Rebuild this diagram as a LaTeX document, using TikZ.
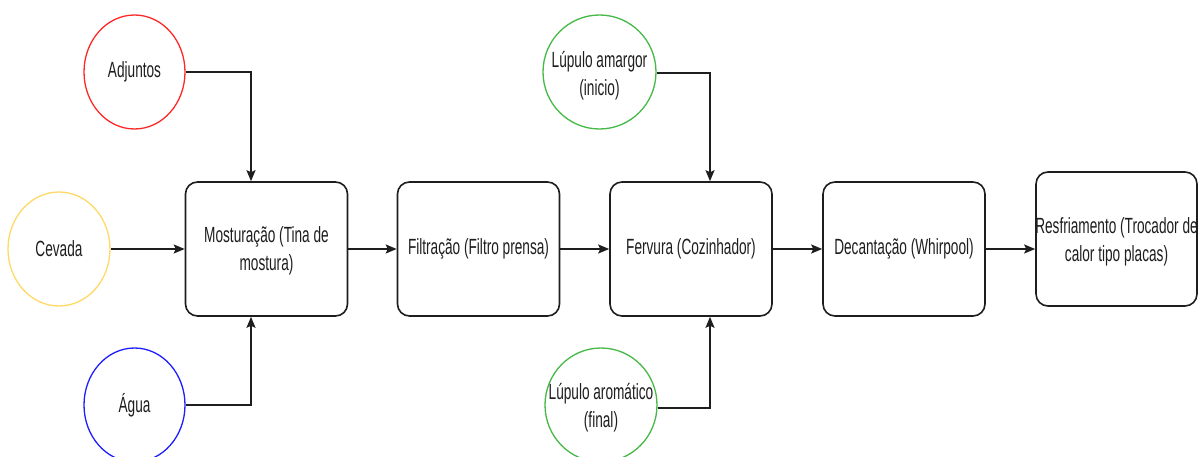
\documentclass[tikz,border=0pt]{standalone}
\usepackage{fontspec}
\setmainfont{Liberation Sans}[FakeStretch=0.62]
\usetikzlibrary{arrows.meta,shapes.geometric}
\definecolor{cred}{RGB}{255,40,40}
\definecolor{cyellow}{RGB}{255,217,102}
\definecolor{cblue}{RGB}{30,30,255}
\definecolor{cgreen}{RGB}{70,185,70}
\definecolor{cline}{RGB}{30,30,30}
\begin{document}
\begin{tikzpicture}[x=1pt,y=-1pt,
  txt/.style={align=center, inner sep=0pt, text=cline, font=\fontsize{22}{28}\selectfont},
  proc/.style={draw=cline, line width=1.6pt, rounded corners=12pt, minimum width=162pt, minimum height=134pt, inner sep=0pt},
  inp/.style={ellipse, line width=1.3pt, inner sep=0pt},
  flow/.style={draw=cline, line width=1.5pt, -{Stealth[length=11pt,width=9pt,inset=2pt]}}]
\fill[white] (0,0) rectangle (1198,457);
\useasboundingbox (0,0) rectangle (1198,457);

% inputs
\node[inp, draw=cred, minimum width=101pt, minimum height=114pt] (adj) at (134.5,72) {};
\node[txt] (adjt) at (adj) {Adjuntos};
\node[inp, draw=cyellow, minimum width=102pt, minimum height=114pt] (cev) at (59,249) {};
\node[txt] (cevt) at (cev) {Cevada};
\node[inp, draw=cblue, minimum width=101pt, minimum height=114pt] (agu) at (134.5,405) {};
\node[txt] (agut) at (agu) {Água};
\node[inp, draw=cgreen, minimum width=113pt, minimum height=114pt] (lam) at (599.5,72) {};
\node[txt] (lamt) at (599.5,76) {Lúpulo amargor\\(inicio)};
\node[inp, draw=cgreen, minimum width=112pt, minimum height=114pt] (lar) at (601,405) {};
\node[txt] (lart) at (601,408) {Lúpulo aromático\\(final)};

% process boxes
\node[proc] (b1) at (266.5,249) {};
\node[txt] (b1t) at (266.5,251) {Mosturação (Tina de\\mostura)};
\node[proc] (b2) at (478.5,249) {};
\node[txt] (b2t) at (b2) {Filtração (Filtro prensa)};
\node[proc] (b3) at (691,249) {};
\node[txt] (b3t) at (b3) {Fervura (Cozinhador)};
\node[proc] (b4) at (904,249) {};
\node[txt] (b4t) at (b4) {Decantação (Whirpool)};
\node[proc, minimum width=161pt] (b5) at (1116.5,239) {};
\node[txt] (b5t) at (1116.5,242) {Resfriamento (Trocador de\\calor tipo placas)};

% connectors
\coordinate (c1) at (251,72);
\coordinate (c2) at (251,405);
\coordinate (c3) at (710,73);
\coordinate (c4) at (710,408);
\coordinate (c5) at (b5.west |- 0,249);

\draw[flow] (adj.east |- c1) -- (c1) -- (c1 |- b1.north);
\draw[flow] (cev.east) -- (b1.west);
\draw[flow] (agu.east |- c2) -- (c2) -- (c2 |- b1.south);
\draw[flow] (b1.east) -- (b2.west);
\draw[flow] (b2.east) -- (b3.west);
\draw[flow] (lam.east |- c3) -- (c3) -- (c3 |- b3.north);
\draw[flow] (lar.east |- c4) -- (c4) -- (c4 |- b3.south);
\draw[flow] (b3.east) -- (b4.west);
\draw[flow] (b4.east) -- (c5);
\end{tikzpicture}
\end{document}
